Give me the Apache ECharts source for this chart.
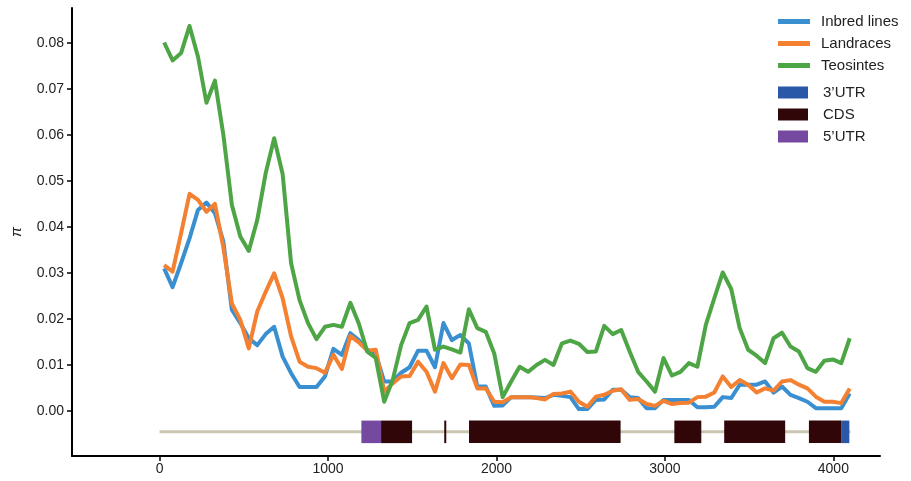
<!DOCTYPE html>
<html>
<head>
<meta charset="utf-8">
<script src="https://cdn.jsdelivr.net/npm/echarts@6/dist/echarts.min.js"></script>
<style>
  html, body { margin: 0; padding: 0; background: #ffffff; }
  #chart { width: 911px; height: 481px; }
</style>
</head>
<body>
<div id="chart"></div>
<script>
// Sliding-window nucleotide diversity (pi) along the gene, three groups.
const windowStart = 27;     // bp, centre of the first window
const windowStep = 50.25;   // bp between window centres

const inbredLines = [
  0.0310, 0.0269, 0.0321, 0.0375, 0.0437, 0.0453, 0.0430, 0.0368, 0.0220, 0.0191,
  0.0158, 0.0143, 0.0167, 0.0183, 0.0118, 0.0082, 0.0052, 0.0052, 0.0052, 0.0075,
  0.0135, 0.0122, 0.0169, 0.0154, 0.0133, 0.0124, 0.0064, 0.0064, 0.0083, 0.0095,
  0.0131, 0.0131, 0.0095, 0.0191, 0.0154, 0.0165, 0.0147, 0.0053, 0.0053, 0.0011,
  0.0012, 0.0030, 0.0030, 0.0030, 0.0029, 0.0028, 0.0035, 0.0033, 0.0030, 0.0004,
  0.0004, 0.0024, 0.0025, 0.0046, 0.0046, 0.0030, 0.0028, 0.0006, 0.0006, 0.0024,
  0.0024, 0.0024, 0.0024, 0.0008, 0.0008, 0.0009, 0.0030, 0.0028, 0.0057, 0.0057,
  0.0057, 0.0064, 0.0040, 0.0053, 0.0035, 0.0028, 0.0020, 0.0006, 0.0006, 0.0006,
  0.0006, 0.0038
];

const landraces = [
  0.0317, 0.0303, 0.0386, 0.0472, 0.0459, 0.0433, 0.0450, 0.0355, 0.0234, 0.0198,
  0.0136, 0.0216, 0.0259, 0.0299, 0.0245, 0.0162, 0.0107, 0.0096, 0.0093, 0.0083,
  0.0122, 0.0091, 0.0163, 0.0149, 0.0131, 0.0133, 0.0042, 0.0060, 0.0075, 0.0076,
  0.0107, 0.0085, 0.0042, 0.0104, 0.0071, 0.0101, 0.0100, 0.0049, 0.0049, 0.0020,
  0.0019, 0.0030, 0.0030, 0.0030, 0.0028, 0.0025, 0.0037, 0.0038, 0.0042, 0.0020,
  0.0009, 0.0031, 0.0035, 0.0044, 0.0047, 0.0024, 0.0026, 0.0015, 0.0011, 0.0022,
  0.0015, 0.0017, 0.0018, 0.0030, 0.0031, 0.0040, 0.0075, 0.0052, 0.0067, 0.0057,
  0.0040, 0.0049, 0.0044, 0.0064, 0.0067, 0.0057, 0.0049, 0.0031, 0.0020, 0.0020,
  0.0017, 0.0049
];

const teosintes = [
  0.0801, 0.0762, 0.0778, 0.0837, 0.0770, 0.0670, 0.0718, 0.0600, 0.0448, 0.0379,
  0.0348, 0.0415, 0.0517, 0.0593, 0.0515, 0.0321, 0.0241, 0.0191, 0.0156, 0.0183,
  0.0187, 0.0183, 0.0235, 0.0190, 0.0129, 0.0115, 0.0020, 0.0067, 0.0143, 0.0191,
  0.0198, 0.0227, 0.0133, 0.0140, 0.0134, 0.0127, 0.0221, 0.0180, 0.0172, 0.0125,
  0.0030, 0.0064, 0.0096, 0.0085, 0.0100, 0.0111, 0.0100, 0.0147, 0.0153, 0.0146,
  0.0128, 0.0129, 0.0185, 0.0167, 0.0176, 0.0129, 0.0085, 0.0064, 0.0042, 0.0115,
  0.0077, 0.0085, 0.0104, 0.0096, 0.0187, 0.0245, 0.0301, 0.0265, 0.0180, 0.0133,
  0.0120, 0.0104, 0.0158, 0.0170, 0.0140, 0.0129, 0.0093, 0.0085, 0.0109, 0.0112,
  0.0104, 0.0158
];

// Gene model (bp)
const geneSpan = [[0, 4101]];
const utr5 = [[1198, 1315]];
const cds = [[1315, 1499], [1690, 1702], [1837, 2737], [3056, 3216], [3352, 3714], [3855, 4046]];
const utr3 = [[4046, 4095]];

const xTicks = [0, 1000, 2000, 3000, 4000];
const yTicks = [0, 0.01, 0.02, 0.03, 0.04, 0.05, 0.06, 0.07, 0.08];

// Vertical placement of the gene track below the zero line (in pi units)
const TRACK_TOP = -0.0021;
const TRACK_BOTTOM = -0.0070;
const TRACK_MID = -0.00455;

const FONT = "'Liberation Sans', Arial, sans-serif";

function toPairs(values) {
  return values.map((v, i) => [windowStart + windowStep * i, v]);
}

function blockRenderer(params, api) {
  const a = api.coord([api.value(0), TRACK_TOP]);
  const b = api.coord([api.value(1), TRACK_BOTTOM]);
  return {
    type: 'rect',
    shape: { x: a[0], y: a[1], width: b[0] - a[0], height: b[1] - a[1] },
    style: { fill: api.visual('color') }
  };
}

function backboneRenderer(params, api) {
  const a = api.coord([api.value(0), TRACK_MID]);
  const b = api.coord([api.value(1), TRACK_MID]);
  return {
    type: 'line',
    shape: { x1: a[0], y1: a[1], x2: b[0], y2: b[1] },
    style: { stroke: '#c9c5b1', lineWidth: 3 }
  };
}

function lineSeries(name, values, color) {
  return {
    name: name,
    type: 'line',
    data: toPairs(values),
    showSymbol: false,
    symbol: 'none',
    color: color,
    lineStyle: { color: color, width: 4, join: 'round' },
    emphasis: { disabled: true },
    z: 3
  };
}

function blockSeries(name, data, color) {
  return {
    name: name,
    type: 'custom',
    data: data,
    renderItem: blockRenderer,
    itemStyle: { color: color },
    encode: { x: [0, 1] },
    clip: false,
    z: 2
  };
}

const chart = echarts.init(document.getElementById('chart'), null, { renderer: 'canvas' });

chart.setOption({
  animation: false,
  backgroundColor: '#ffffff',
  textStyle: { fontFamily: FONT },
  grid: { left: 72, right: 31, top: 8, bottom: 25, containLabel: false },
  legend: [
    {
      data: ['Inbred lines', 'Landraces', 'Teosintes'],
      orient: 'vertical',
      left: 778,
      top: 14,
      padding: 0,
      icon: 'rect',
      itemWidth: 32,
      itemHeight: 5,
      itemGap: 7,
      selectedMode: false,
      textStyle: { fontFamily: FONT, fontSize: 15, color: '#222222', padding: [0, 0, 0, 6] }
    },
    {
      data: ['3\u2019UTR', 'CDS', '5\u2019UTR'],
      orient: 'vertical',
      left: 778,
      top: 85,
      padding: 0,
      icon: 'rect',
      itemWidth: 30,
      itemHeight: 12,
      itemGap: 7,
      selectedMode: false,
      textStyle: { fontFamily: FONT, fontSize: 15, color: '#222222', padding: [0, 0, 0, 10] }
    }
  ],
  xAxis: {
    type: 'value',
    min: -520,
    max: 4277,
    splitLine: { show: false },
    axisLine: { show: true, onZero: false, lineStyle: { color: '#000000', width: 2 } },
    axisTick: { show: true, inside: false, length: 5, customValues: xTicks, lineStyle: { color: '#000000', width: 1.5 } },
    axisLabel: {
      customValues: xTicks,
      margin: 6,
      fontFamily: FONT,
      fontSize: 14,
      color: '#222222',
      formatter: (v) => String(v)
    }
  },
  yAxis: {
    type: 'value',
    min: -0.0098,
    max: 0.0876,
    name: '\u03c0',
    nameLocation: 'middle',
    nameRotate: 90,
    nameGap: 48,
    nameTextStyle: { fontFamily: FONT, fontSize: 15, color: '#222222', fontStyle: 'italic' },
    splitLine: { show: false },
    axisLine: { show: true, onZero: false, lineStyle: { color: '#000000', width: 2 } },
    axisTick: { show: true, inside: false, length: 5, customValues: yTicks, lineStyle: { color: '#000000', width: 1.5 } },
    axisLabel: {
      customValues: yTicks,
      margin: 8,
      fontFamily: FONT,
      fontSize: 14,
      color: '#222222',
      formatter: (v) => v.toFixed(2)
    }
  },
  series: [
    {
      name: 'gene',
      type: 'custom',
      data: geneSpan,
      renderItem: backboneRenderer,
      encode: { x: [0, 1] },
      clip: false,
      z: 1
    },
    blockSeries('5\u2019UTR', utr5, '#7649a0'),
    blockSeries('CDS', cds, '#300609'),
    blockSeries('3\u2019UTR', utr3, '#2a58a8'),
    lineSeries('Inbred lines', inbredLines, '#3a8fd1'),
    lineSeries('Landraces', landraces, '#f48131'),
    lineSeries('Teosintes', teosintes, '#4ea546')
  ]
});
</script>
</body>
</html>
